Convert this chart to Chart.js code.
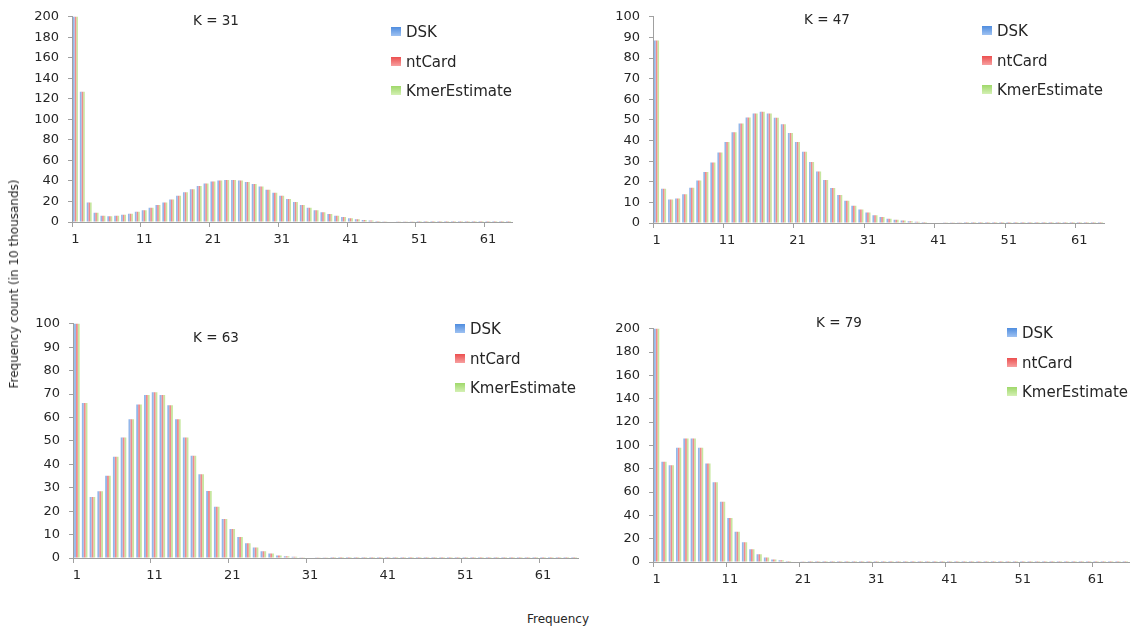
<!DOCTYPE html>
<html>
<head>
<meta charset="utf-8">
<script src="https://cdn.jsdelivr.net/npm/chart.js@4.4.1/dist/chart.umd.min.js"></script>
<style>
  html,body{margin:0;padding:0;background:#fff;}
  #page{position:relative;width:1141px;height:629px;overflow:hidden;font-family:"DejaVu Sans",sans-serif;color:#262626;}
  .panel{position:absolute;}
  .ttl{position:absolute;font-size:13.5px;white-space:nowrap;transform:translate(-50%,-50%);}
  .lg{position:absolute;font-size:15px;}
  .lg div{height:29.5px;line-height:0;white-space:nowrap;position:relative;}
  .lg span.sw{position:absolute;left:0;top:-5px;width:10px;height:9px;}
  .lg span.tx{position:absolute;left:15px;top:0;}
  .axt{position:absolute;font-size:12px;white-space:nowrap;transform:translate(-50%,-50%);}
</style>
</head>
<body>
<div id="page"></div>
<script>
/* ---------- DATA ---------- */
const seriesNames  = ['DSK','ntCard','KmerEstimate'];
const seriesColors = ['#93b7ea','#f08b8b','#c6e79f'];
const swatchGrad   = ['linear-gradient(#4f8ddf,#9fc2f2)','linear-gradient(#ec4f4f,#f7a0a0)','linear-gradient(#9fd86a,#d4f0b4)'];

// frequency count (in 10 thousands) per frequency 1..n
const k31 = [260,127,19,9,6,5.5,6,7,8,10,11.5,14,16.5,19,22,25.5,29,32,35,37.5,39.5,40.5,41,41,40.5,39,37,34.5,31.5,28.5,
             25.5,22.5,19.5,16.5,14,11.5,9.5,7.7,6,4.8,3.6,2.7,2,1.4,1,0.7,0.5,0.35,0.25,0.15,0.1,0.08,0.06,0.05,0.04,0.03,
             0.03,0.02,0.02,0.02,0.01,0.01,0.01,0.01];
const k47 = [88.5,16.6,11.4,11.9,13.9,17.1,20.6,24.7,29.3,34.2,39.3,44,48.2,51.2,53.1,53.9,53.1,51,47.9,43.7,39.3,34.5,
             29.6,25,20.8,17,13.6,10.8,8.4,6.5,5.1,3.8,2.9,2.1,1.6,1.2,0.9,0.6,0.45,0.3,0.2,0.15,0.1,0.07,0.05,0.04,0.03,
             0.03,0.02,0.02,0.02,0.01,0.01,0.01,0.01,0.01,0.01,0.01,0.01,0.01,0.01,0.01,0.01,0.01];
const k63 = [130,66.2,26,28.5,35.1,43.2,51.4,59.2,65.5,69.6,70.8,69.6,65.2,59.2,51.5,43.7,35.8,28.6,21.9,16.7,12.4,9,6.3,
             4.5,2.9,1.9,1.1,0.7,0.5,0.3,0.2,0.1,0.07,0.05,0.04,0.03,0.03,0.02,0.02,0.02,0.01,0.01,0.01,0.01,0.01,0.01,
             0.01,0.01,0.01,0.01,0.01,0.01,0.01,0.01,0.01,0.01,0.01,0.01,0.01,0.01,0.01,0.01,0.01,0.01,0.01];
const k79 = [260,85.9,83,97.9,106,106,97.9,84.5,68.5,51.7,37.8,26,17,10.9,6.7,3.9,2.2,1.4,0.8,0.4,0.2,0.1,0.07,0.05,0.04,
             0.03,0.03,0.02,0.02,0.02,0.01,0.01,0.01,0.01,0.01,0.01,0.01,0.01,0.01,0.01,0.01,0.01,0.01,0.01,0.01,0.01,
             0.01,0.01,0.01,0.01,0.01,0.01,0.01,0.01,0.01,0.01,0.01,0.01,0.01,0.01,0.01,0.01,0.01,0.01,0.01];

/* ---------- LAYOUT ---------- */
const panels = [
  {title:'K = 31', vals:k31, yMax:200, step:20, area:{l:72, t:12, r:512, b:222}, tpos:[216,20],  lpos:[391,32]},
  {title:'K = 47', vals:k47, yMax:100, step:10, area:{l:653,t:12, r:1104,b:223}, tpos:[827,19],  lpos:[982,31]},
  {title:'K = 63', vals:k63, yMax:100, step:10, area:{l:73, t:319,r:578, b:558}, tpos:[216,337], lpos:[455,329]},
  {title:'K = 79', vals:k79, yMax:200, step:20, area:{l:653,t:324,r:1129,b:562}, tpos:[839,322], lpos:[1007,333]},
];

const $ = id => document.getElementById(id);
const page = $('page');
const YW = 50, PL = 10, PT = 12, PR = 8, XH = 30;
const axisCol = '#a0a0a0', txtCol = '#262626';
Chart.defaults.font.family = '"DejaVu Sans", sans-serif';
Chart.defaults.color = txtCol;

function addDiv(cls, x, y, html){
  const d = document.createElement('div');
  d.className = cls; d.style.left = x+'px'; d.style.top = y+'px'; d.innerHTML = html;
  page.appendChild(d); return d;
}

panels.forEach((p,pi)=>{
  const a = p.area;
  const w = (a.r-a.l)+YW+PL+PR, h = (a.b-a.t)+PT+XH;
  const box = addDiv('panel', a.l-YW-PL, a.t-PT, '');
  const cv = document.createElement('canvas');
  cv.width = w; cv.height = h; cv.style.width = w+'px'; cv.style.height = h+'px';
  box.appendChild(cv);

  const labels = p.vals.map((_,i)=>String(i+1));
  new Chart(cv.getContext('2d'),{
    type:'bar',
    data:{labels, datasets:seriesNames.map((n,si)=>({
      label:n, data:p.vals, backgroundColor:seriesColors[si], borderWidth:0,
      categoryPercentage:0.72, barPercentage:1.0
    }))},
    options:{
      responsive:false, animation:false, devicePixelRatio:1,
      layout:{padding:{left:PL,top:PT,right:PR,bottom:0}},
      plugins:{legend:{display:false}, tooltip:{enabled:false}},
      scales:{
        x:{
          offset:true,
          afterFit:s=>{s.height = XH;},
          grid:{offset:true, drawOnChartArea:false, tickLength:5,
                tickColor:c=>c.index%10===0 ? axisCol : 'rgba(0,0,0,0)'},
          border:{color:axisCol, width:1},
          ticks:{autoSkip:false, maxRotation:0, padding:5, font:{size:13},
                 callback:(v,i)=>i%10===0 ? labels[i] : ''}
        },
        y:{
          min:0, max:p.yMax,
          afterFit:s=>{s.width = YW;},
          grid:{drawOnChartArea:false, tickLength:4, tickColor:axisCol},
          border:{color:axisCol, width:1},
          ticks:{stepSize:p.step, padding:9, font:{size:13}}
        }
      }
    }
  });

  addDiv('ttl', p.tpos[0], p.tpos[1], p.title);
  const lg = addDiv('lg', p.lpos[0], p.lpos[1], '');
  seriesNames.forEach((n,si)=>{
    const row = document.createElement('div');
    row.innerHTML = `<span class="sw" style="background:${swatchGrad[si]}"></span><span class="tx">${n}</span>`;
    lg.appendChild(row);
  });
});

addDiv('axt', 558, 619, 'Frequency');
const yt = addDiv('axt', 14, 284, 'Frequency count (in 10 thousands)');
yt.style.transform = 'translate(-50%,-50%) rotate(-90deg)';
</script>
</body>
</html>
